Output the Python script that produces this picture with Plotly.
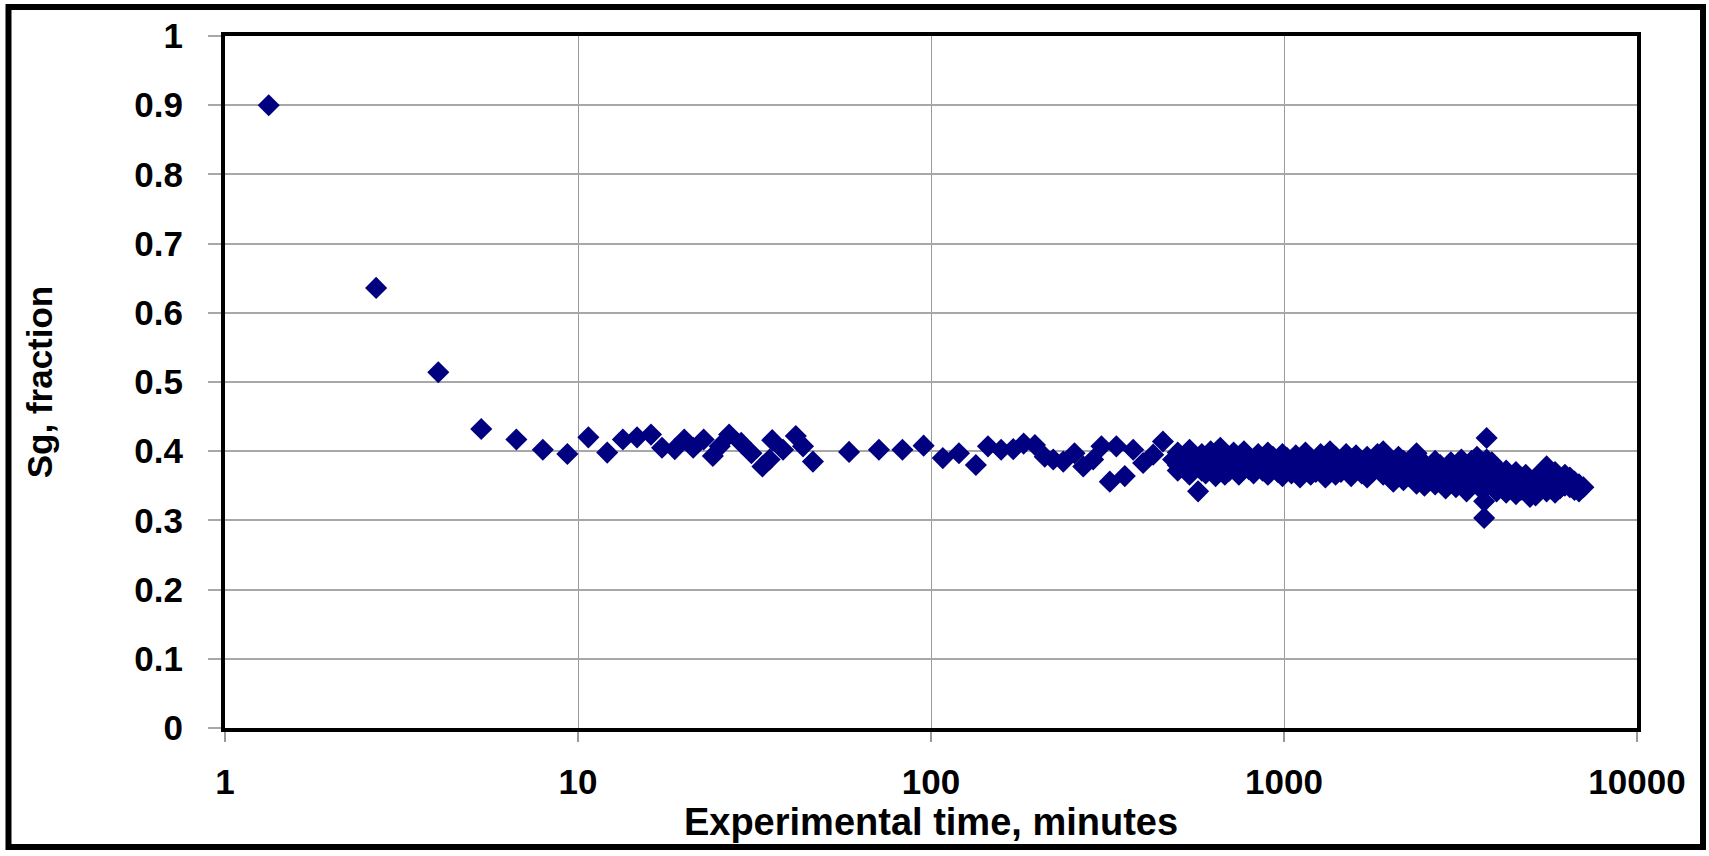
import plotly.graph_objects as go

# ---- data ----
t_sparse = [1.33, 2.68, 4.02, 5.32, 6.69, 7.95, 9.33, 10.7, 12.1, 13.4, 14.7, 16.1,
            17.3, 18.8, 20.0, 21.2, 22.7, 24.1, 25.2, 26.8, 29.0, 31.0, 33.3, 34.9,
            35.5, 38.1, 41.4, 43.4, 46.3, 58.6, 71.2, 83.0, 95.3, 108, 120, 134,
            145, 158, 171, 183, 197, 210, 222, 237, 255, 270, 288, 304, 321, 335,
            354, 374, 399, 426, 454, 485]
sg_sparse = [0.900, 0.636, 0.514, 0.432, 0.417, 0.402, 0.396, 0.420, 0.398, 0.417, 0.420, 0.424,
             0.405, 0.403, 0.417, 0.405, 0.417, 0.393, 0.407, 0.424, 0.412, 0.397, 0.378, 0.388,
             0.416, 0.402, 0.422, 0.407, 0.385, 0.399, 0.402, 0.402, 0.408, 0.390, 0.397, 0.380,
             0.407, 0.402, 0.403, 0.411, 0.409, 0.392, 0.388, 0.385, 0.397, 0.378, 0.388, 0.407,
             0.356, 0.407, 0.364, 0.402, 0.383, 0.395, 0.414, 0.388]

t_dense = [500, 500, 500, 520, 520, 540, 540, 540, 560, 560, 571, 585, 585, 600, 600,
           620, 620, 640, 640, 640, 660, 660, 680, 680, 680, 700, 700, 720, 720,
           745, 745, 745, 770, 770, 795, 795, 820, 820, 845, 845, 870, 870,
           900, 900, 900, 930, 930, 960, 960, 990, 990, 990, 1020, 1020, 1050, 1050,
           1080, 1080, 1110, 1110, 1110, 1150, 1150, 1190, 1190, 1190, 1230, 1230,
           1270, 1270, 1310, 1310, 1310, 1350, 1350, 1400, 1400, 1400, 1450, 1450,
           1500, 1500, 1550, 1550, 1550, 1600, 1600, 1660, 1660, 1720, 1720, 1720,
           1780, 1780, 1840, 1840, 1910, 1910, 1910, 1970, 1970, 2040, 2040, 2040,
           2110, 2110, 2180, 2180, 2180, 2260, 2260, 2374, 2374, 2374, 2420, 2420,
           2500, 2500, 2500, 2590, 2590, 2680, 2680, 2680, 2770, 2770, 2870, 2870, 2870,
           2970, 2970, 3070, 3070, 3070, 3180, 3180, 3290, 3290, 3290, 3400, 3400,
           3520, 3520, 3520, 3640, 3640, 3640, 3690, 3690, 3750, 3750, 3800, 3800,
           3880, 3880, 4000, 4000, 4000, 4130, 4130, 4260, 4260, 4260, 4400, 4400,
           4540, 4540, 4540, 4690, 4690, 4840, 4840, 4975, 4975, 5160, 5160, 5160,
           5330, 5330, 5545, 5545, 5545, 5680, 5680, 5860, 5860, 5860, 6050, 6050,
           6250, 6250, 6455, 6455, 6650, 6650, 6850, 6850, 7050]
sg_dense = [0.398, 0.380, 0.372, 0.390, 0.376, 0.402, 0.384, 0.366, 0.392, 0.378, 0.342, 0.396, 0.372, 0.386, 0.368,
            0.400, 0.380, 0.392, 0.374, 0.364, 0.405, 0.386, 0.396, 0.378, 0.366, 0.388, 0.372, 0.398, 0.382,
            0.390, 0.376, 0.366, 0.400, 0.384, 0.392, 0.374, 0.386, 0.368, 0.396, 0.380, 0.390, 0.372,
            0.398, 0.384, 0.366, 0.392, 0.376, 0.386, 0.370, 0.396, 0.380, 0.364, 0.390, 0.374, 0.384, 0.368,
            0.394, 0.378, 0.388, 0.372, 0.362, 0.398, 0.382, 0.390, 0.374, 0.366, 0.384, 0.370,
            0.396, 0.378, 0.390, 0.372, 0.362, 0.400, 0.382, 0.392, 0.376, 0.366, 0.386, 0.370,
            0.396, 0.380, 0.388, 0.372, 0.364, 0.394, 0.378, 0.386, 0.368, 0.392, 0.376, 0.362,
            0.384, 0.370, 0.396, 0.378, 0.400, 0.382, 0.366, 0.390, 0.372, 0.384, 0.366, 0.356,
            0.392, 0.376, 0.386, 0.370, 0.358, 0.380, 0.364, 0.397, 0.378, 0.353, 0.388, 0.370,
            0.382, 0.362, 0.350, 0.376, 0.358, 0.386, 0.368, 0.352, 0.380, 0.362, 0.374, 0.356, 0.346,
            0.384, 0.366, 0.378, 0.360, 0.348, 0.388, 0.370, 0.376, 0.354, 0.342, 0.386, 0.368,
            0.392, 0.374, 0.356, 0.380, 0.362, 0.344, 0.3035, 0.3275, 0.419, 0.388, 0.370, 0.352,
            0.384, 0.364, 0.376, 0.358, 0.342, 0.368, 0.350, 0.372, 0.356, 0.340, 0.364, 0.346,
            0.370, 0.352, 0.338, 0.360, 0.344, 0.366, 0.350, 0.334, 0.356, 0.362, 0.344, 0.336,
            0.368, 0.350, 0.378, 0.358, 0.342, 0.364, 0.346, 0.370, 0.354, 0.340, 0.360, 0.346,
            0.366, 0.350, 0.362, 0.348, 0.356, 0.344, 0.352, 0.342, 0.348]

x_tick_vals = [1, 10, 100, 1000, 10000]
x_tick_text = ["1", "10", "100", "1000", "10000"]
y_tick_vals = [0, 0.1, 0.2, 0.3, 0.4, 0.5, 0.6, 0.7, 0.8, 0.9, 1]
y_tick_text = ["0", "0.1", "0.2", "0.3", "0.4", "0.5", "0.6", "0.7", "0.8", "0.9", "1"]

x_title = "Experimental time, minutes"
y_title = "Sg, fraction"

FONT = "Liberation Sans, Arial, sans-serif"

fig = go.Figure()
fig.add_trace(go.Scatter(
    x=t_sparse + t_dense, y=sg_sparse + sg_dense,
    mode="markers",
    marker=dict(symbol="diamond", size=17, color="#000080", line=dict(width=0)),
    showlegend=False, hoverinfo="x+y"))

W, H = 1709, 856
L, R, T, B = 225, 72, 36, 128
pw, ph = W - L - R, H - T - B

fig.update_layout(
    width=W, height=H,
    margin=dict(l=L, r=R, t=T, b=B, pad=0),
    paper_bgcolor="white", plot_bgcolor="white",
    font=dict(family=FONT, color="black"),
    xaxis=dict(
        type="log", range=[0, 4],
        tickmode="array", tickvals=x_tick_vals, ticktext=x_tick_text,
        tickfont=dict(size=35, family=FONT, weight="bold"),
        showgrid=True, gridcolor="#9a9a9a", gridwidth=1,
        showline=True, linecolor="black", linewidth=4, mirror=True,
        ticks="outside", ticklen=10, tickcolor="#9a9a9a", tickwidth=1.5,
        ticklabelstandoff=10,
        zeroline=False,
        title=dict(text=x_title, font=dict(size=38, family=FONT, weight="bold"), standoff=2),
    ),
    yaxis=dict(
        range=[0, 1],
        tickmode="array", tickvals=y_tick_vals, ticktext=y_tick_text,
        tickfont=dict(size=35, family=FONT, weight="bold"),
        showgrid=True, gridcolor="#a8a8a8", gridwidth=2,
        showline=True, linecolor="black", linewidth=4, mirror=True,
        ticks="outside", ticklen=13, tickcolor="#a8a8a8", tickwidth=2,
        ticklabelstandoff=18,
        zeroline=False,
        title=dict(text=y_title, font=dict(size=35, family=FONT, weight="bold"), standoff=72),
    ),
)

# outer frame of the picture
fig.add_shape(type="rect", xref="paper", yref="paper",
              x0=(8.5 - L) / pw, x1=(1703 - L) / pw,
              y0=(H - B - 847) / ph, y1=(H - B - 7) / ph,
              line=dict(color="black", width=6), fillcolor="rgba(0,0,0,0)", layer="above")

fig.write_html("out.html")
